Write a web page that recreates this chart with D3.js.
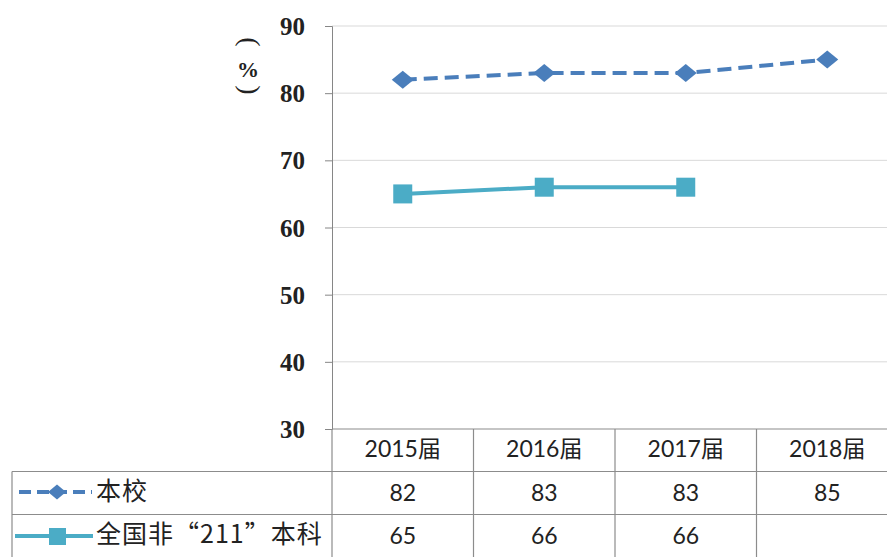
<!DOCTYPE html>
<html><head><meta charset="utf-8">
<script src="https://cdn.jsdelivr.net/npm/d3@7"></script>
<style>body{margin:0;background:#fff}svg{display:block}</style>
</head><body>
<script>
const categories = ["2015届","2016届","2017届","2018届"];
const seriesNames = ["本校","全国非“211”本科"];
const schoolValues = [82,83,83,85];
const nationalValues = [65,66,66,null];
const yTicks = [30,40,50,60,70,80,90];

const W=887,H=557;
const svg=d3.select("body").append("svg").attr("width",W).attr("height",H);
const x=d3.scaleBand().domain(categories).range([332,898]);
const y=d3.scaleLinear().domain([30,90]).range([429,26]);
const blue="#4a7ebb", teal="#4bacc6";
const numFont="Lato, 'Noto Sans CJK SC', sans-serif";
const serif="'Liberation Serif', serif";

const wideDiamond = (hw,hh)=>({draw(ctx){ctx.moveTo(-hw,0);ctx.lineTo(0,-hh);ctx.lineTo(hw,0);ctx.lineTo(0,hh);ctx.closePath();}});

svg.append("g").selectAll("line").data(yTicks.filter(d=>d>30)).join("line")
  .attr("x1",332).attr("x2",W).attr("y1",d=>y(d)).attr("y2",d=>y(d))
  .attr("stroke","#d9d9d9").attr("stroke-width",1);

const yAxis=d3.axisLeft(y).tickValues(yTicks).tickSize(7).tickPadding(20);
const ga=svg.append("g").attr("transform","translate(332,0)").call(yAxis);
ga.select(".domain").attr("stroke","#868686");
ga.selectAll(".tick line").attr("stroke","#868686");
ga.selectAll(".tick text").attr("font-family",serif).attr("font-weight","bold")
  .attr("font-size",25).attr("fill","#222").attr("dy","0.34em");

// y title vertical "（%）" : parentheses turned sideways
const tt=svg.append("g").attr("fill","#222").attr("text-anchor","middle").attr("font-family",serif);
tt.append("text").attr("transform","translate(250,42) rotate(90)").attr("font-size",28).attr("dy","0.32em").text("(");
tt.append("text").attr("x",248).attr("y",77).attr("font-size",22).attr("font-weight","bold").text("%");
tt.append("text").attr("transform","translate(250,90) rotate(90)").attr("font-size",28).attr("dy","0.32em").text(")");

const tg=svg.append("g").attr("stroke","#8c8c8c").attr("stroke-width",1.2);
tg.append("line").attr("x1",332).attr("x2",W).attr("y1",429).attr("y2",429);
tg.append("line").attr("x1",12).attr("x2",W).attr("y1",471.5).attr("y2",471.5);
tg.append("line").attr("x1",12).attr("x2",W).attr("y1",514.5).attr("y2",514.5);
tg.append("line").attr("x1",12).attr("x2",12).attr("y1",471.5).attr("y2",H);
tg.selectAll("line.v").data(categories).join("line").attr("class","v")
  .attr("x1",d=>x(d)).attr("x2",d=>x(d)).attr("y1",429).attr("y2",H);

svg.append("g").selectAll("text").data(categories).join("text")
  .attr("x",d=>x(d)+x.bandwidth()/2).attr("y",457).attr("text-anchor","middle")
  .attr("font-family",numFont).attr("font-size",23).attr("fill","#222").text(d=>d);
const rows=[schoolValues,nationalValues];
rows.forEach((vals,i)=>{
  svg.append("g").selectAll("text").data(categories).join("text")
    .attr("x",d=>x(d)+x.bandwidth()/2).attr("y",501+43*i).attr("text-anchor","middle")
    .attr("font-family",numFont).attr("font-size",23).attr("fill","#222")
    .text((d,j)=>vals[j]==null?"":vals[j]);
});

svg.append("g").selectAll("text").data(seriesNames).join("text")
  .attr("x",96).attr("y",(d,i)=>500+43*i).attr("font-family","'Noto Sans CJK SC'")
  .attr("font-size",25).attr("letter-spacing",1).attr("fill","#222").text(d=>d);

svg.append("line").attr("x1",19).attr("x2",92).attr("y1",492).attr("y2",492)
  .attr("stroke",blue).attr("stroke-width",4).attr("stroke-dasharray","12,6");
svg.append("path").attr("d",d3.symbol(wideDiamond(9,7.5))())
  .attr("transform","translate(57,492)").attr("fill",blue);
svg.append("line").attr("x1",15).attr("x2",93).attr("y1",536).attr("y2",536)
  .attr("stroke",teal).attr("stroke-width",4);
svg.append("rect").attr("x",49).attr("y",528).attr("width",17).attr("height",17).attr("fill",teal);

const cx=d=>x(d)+x.bandwidth()/2;
const schoolPts=categories.map((c,i)=>[cx(c),y(schoolValues[i])]);
const natPts=categories.map((c,i)=>nationalValues[i]==null?null:[cx(c),y(nationalValues[i])]).filter(p=>p);
const line=d3.line();
svg.append("path").attr("d",line(schoolPts)).attr("fill","none").attr("stroke",blue)
  .attr("stroke-width",4).attr("stroke-dasharray","14,7");
svg.append("path").attr("d",line(natPts)).attr("fill","none").attr("stroke",teal).attr("stroke-width",4);
svg.append("g").selectAll("path").data(schoolPts).join("path")
  .attr("d",d3.symbol(wideDiamond(11,9))()).attr("transform",d=>`translate(${d[0]},${d[1]})`).attr("fill",blue);
svg.append("g").selectAll("rect").data(natPts).join("rect")
  .attr("x",d=>d[0]-9.5).attr("y",d=>d[1]-9.5).attr("width",19).attr("height",19).attr("fill",teal);
</script>
</body></html>
